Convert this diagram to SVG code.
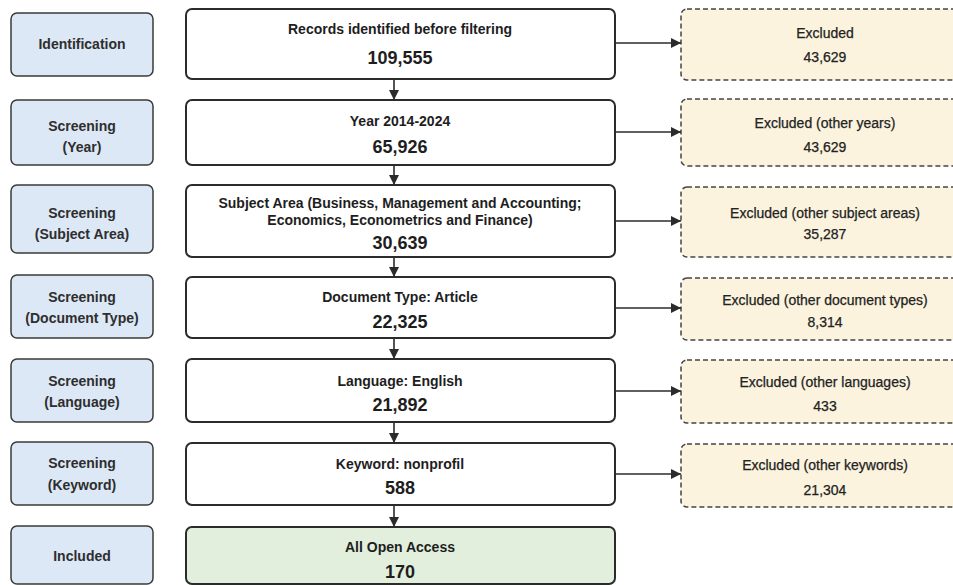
<svg xmlns="http://www.w3.org/2000/svg" width="953" height="585" viewBox="0 0 953 585">
<defs>
<style>
.stage rect{fill:#dde8f6;stroke:#3a3a3a;stroke-width:1.5}
.stage text{font-family:"Liberation Sans",Arial,sans-serif;font-weight:bold;font-size:14px;fill:#2e2e2e;text-anchor:middle}
.main rect{fill:#ffffff;stroke:#2b2b2b;stroke-width:2}
.main.green rect{fill:#e2efdc}
.main text{font-family:"Liberation Sans",Arial,sans-serif;font-weight:bold;fill:#1e1e1e;text-anchor:middle}
.main .t{font-size:14px}
.main .n{font-size:18px}
.excl rect{fill:#fbf3dd;stroke:#444;stroke-width:1.5;stroke-dasharray:5 3}
.excl text{font-family:"Liberation Sans",Arial,sans-serif;font-size:14px;fill:#222;stroke:#222;stroke-width:0.25;text-anchor:middle}
#connectors line{stroke:#2b2b2b;stroke-width:1.6;fill:none}
</style>
<marker id="ah" viewBox="0 0 10 10" refX="10" refY="5" markerWidth="10" markerHeight="10" markerUnits="userSpaceOnUse" orient="auto">
<path d="M0,0 L10,5 L0,10 z" fill="#2b2b2b"/>
</marker>
</defs>
<rect x="0" y="0" width="953" height="585" fill="#ffffff"/>

<g id="stage-identification" class="stage"><rect x="11" y="13" width="142" height="63" rx="6"/><text x="82" y="49">Identification</text></g>
<g id="stage-year" class="stage"><rect x="11" y="100" width="142" height="65" rx="6"/><text x="82" y="131">Screening</text><text x="82" y="152">(Year)</text></g>
<g id="stage-subject" class="stage"><rect x="11" y="185" width="142" height="68" rx="6"/><text x="82" y="218">Screening</text><text x="82" y="239">(Subject Area)</text></g>
<g id="stage-doctype" class="stage"><rect x="11" y="275" width="142" height="63" rx="6"/><text x="82" y="302">Screening</text><text x="82" y="323">(Document Type)</text></g>
<g id="stage-language" class="stage"><rect x="11" y="359" width="142" height="63" rx="6"/><text x="82" y="386">Screening</text><text x="82" y="407">(Language)</text></g>
<g id="stage-keyword" class="stage"><rect x="11" y="442" width="142" height="63" rx="6"/><text x="82" y="468">Screening</text><text x="82" y="490">(Keyword)</text></g>
<g id="stage-included" class="stage"><rect x="11" y="526" width="142" height="58" rx="6"/><text x="82" y="561">Included</text></g>

<g id="box-records" class="main"><rect x="186" y="9" width="429" height="70" rx="6"/><text class="t" x="400" y="34">Records identified before filtering</text><text class="n" x="400" y="64">109,555</text></g>
<g id="box-year" class="main"><rect x="186" y="100" width="429" height="65" rx="6"/><text class="t" x="400" y="126">Year 2014-2024</text><text class="n" x="400" y="153">65,926</text></g>
<g id="box-subject" class="main"><rect x="186" y="185" width="429" height="72" rx="6"/><text class="t" x="400" y="208">Subject Area (Business, Management and Accounting;</text><text class="t" x="400" y="225">Economics, Econometrics and Finance)</text><text class="n" x="400" y="249">30,639</text></g>
<g id="box-doctype" class="main"><rect x="186" y="277" width="429" height="61" rx="6"/><text class="t" x="400" y="302">Document Type: Article</text><text class="n" x="400" y="328">22,325</text></g>
<g id="box-language" class="main"><rect x="186" y="359" width="429" height="63" rx="6"/><text class="t" x="400" y="386">Language: English</text><text class="n" x="400" y="411">21,892</text></g>
<g id="box-keyword" class="main"><rect x="186" y="443" width="429" height="62" rx="6"/><text class="t" x="400" y="469">Keyword: nonprofil</text><text class="n" x="400" y="494">588</text></g>
<g id="box-included" class="main green"><rect x="186" y="527" width="429" height="57" rx="6"/><text class="t" x="400" y="552">All Open Access</text><text class="n" x="400" y="578">170</text></g>

<g id="excl-1" class="excl"><rect x="681" y="9" width="290" height="71" rx="6"/><text x="825" y="38">Excluded</text><text x="825" y="62">43,629</text></g>
<g id="excl-year" class="excl"><rect x="681" y="99" width="290" height="67" rx="6"/><text x="825" y="128">Excluded (other years)</text><text x="825" y="152">43,629</text></g>
<g id="excl-subject" class="excl"><rect x="681" y="187" width="290" height="70" rx="6"/><text x="825" y="218">Excluded (other subject areas)</text><text x="825" y="239">35,287</text></g>
<g id="excl-doctype" class="excl"><rect x="681" y="278" width="290" height="62" rx="6"/><text x="825" y="305">Excluded (other document types)</text><text x="825" y="327">8,314</text></g>
<g id="excl-language" class="excl"><rect x="681" y="360" width="290" height="63" rx="6"/><text x="825" y="387">Excluded (other languages)</text><text x="825" y="411">433</text></g>
<g id="excl-keyword" class="excl"><rect x="681" y="444" width="290" height="63" rx="6"/><text x="825" y="470">Excluded (other keywords)</text><text x="825" y="495">21,304</text></g>

<g id="connectors">
<line x1="394" y1="80" x2="394" y2="100" marker-end="url(#ah)"/>
<line x1="394" y1="166" x2="394" y2="185" marker-end="url(#ah)"/>
<line x1="394" y1="258" x2="394" y2="277" marker-end="url(#ah)"/>
<line x1="394" y1="339" x2="394" y2="359" marker-end="url(#ah)"/>
<line x1="394" y1="423" x2="394" y2="443" marker-end="url(#ah)"/>
<line x1="394" y1="506" x2="394" y2="527" marker-end="url(#ah)"/>
<line x1="616" y1="43" x2="681" y2="43" marker-end="url(#ah)"/>
<line x1="616" y1="132" x2="681" y2="132" marker-end="url(#ah)"/>
<line x1="616" y1="221" x2="681" y2="221" marker-end="url(#ah)"/>
<line x1="616" y1="308" x2="681" y2="308" marker-end="url(#ah)"/>
<line x1="616" y1="391" x2="681" y2="391" marker-end="url(#ah)"/>
<line x1="616" y1="474" x2="681" y2="474" marker-end="url(#ah)"/>
</g>
</svg>
